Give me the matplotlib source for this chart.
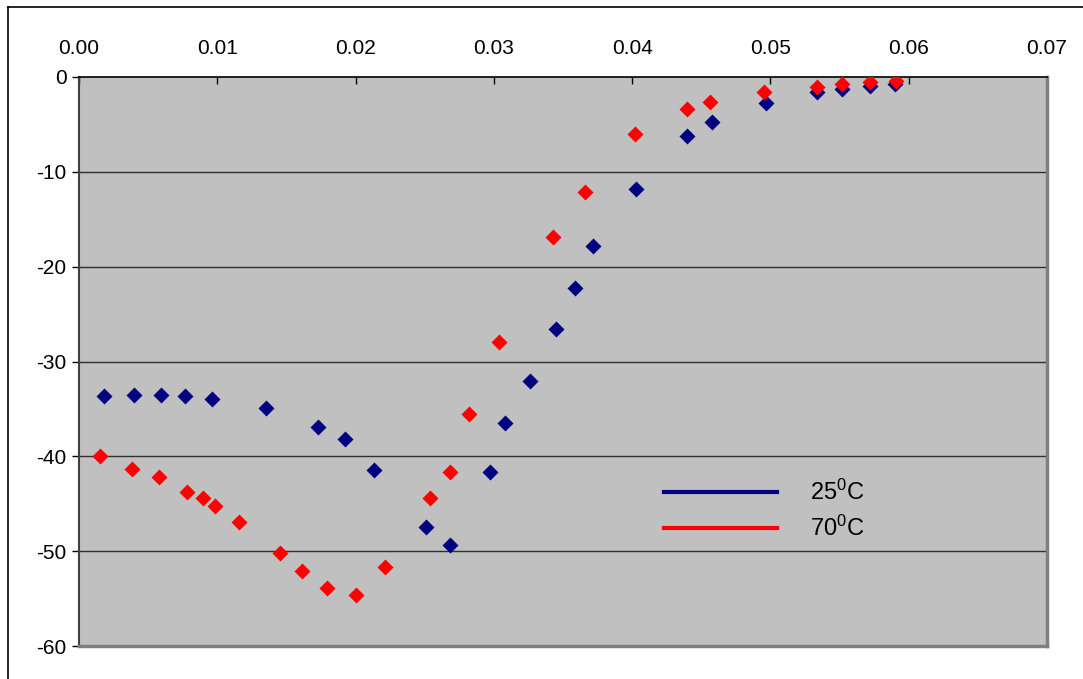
import matplotlib
matplotlib.use('Agg')
import matplotlib.pyplot as plt
from matplotlib.lines import Line2D

plt.rcParams['font.family'] = ['Liberation Sans', 'DejaVu Sans']
plt.rcParams['mathtext.fontset'] = 'custom'
plt.rcParams['mathtext.rm'] = 'Liberation Sans'
plt.rcParams['mathtext.default'] = 'regular'
plt.rcParams['axes.unicode_minus'] = False

# 25 C series
x25 = [0.0018, 0.0040, 0.0059, 0.0077, 0.0096, 0.0135, 0.0173, 0.0192,
       0.0213, 0.0251, 0.0268, 0.0297, 0.0308, 0.0326, 0.0345, 0.0359,
       0.0372, 0.0403, 0.0440, 0.0458, 0.0497, 0.0534, 0.0552, 0.0572,
       0.0590]
y25 = [-33.6, -33.5, -33.5, -33.6, -34.0, -34.9, -36.9, -38.2,
       -41.4, -47.5, -49.4, -41.7, -36.5, -32.1, -26.6, -22.3,
       -17.8, -11.8, -6.2, -4.7, -2.7, -1.6, -1.3, -0.9,
       -0.7]

# 70 C series
x70 = [0.0015, 0.0038, 0.0058, 0.0078, 0.0090, 0.0098, 0.0116, 0.0145,
       0.0161, 0.0179, 0.0200, 0.0221, 0.0254, 0.0268, 0.0282, 0.0304,
       0.0343, 0.0366, 0.0402, 0.0440, 0.0456, 0.0495, 0.0534, 0.0552,
       0.0572, 0.0591]
y70 = [-40.0, -41.3, -42.2, -43.8, -44.4, -45.2, -46.9, -50.2,
       -52.1, -53.9, -54.6, -51.7, -44.4, -41.7, -35.5, -27.9,
       -16.9, -12.1, -6.0, -3.4, -2.6, -1.6, -1.1, -0.7,
       -0.5, -0.4]

labels = ['25$^0$C', '70$^0$C']
colors = ['#000080', '#FF0000']

fig = plt.figure(figsize=(10.83, 6.79), dpi=100)
ax = fig.add_axes([79/1083, 1-646/679, (1047-79)/1083, (646-77)/679])
ax.set_facecolor('#C0C0C0')

# outer chart border (only top and left visible)
fig.add_artist(Line2D([8/1083, 1.0], [1-7/679, 1-7/679], color='black', lw=1.2))
fig.add_artist(Line2D([8/1083, 8/1083], [0, 1-7/679], color='black', lw=1.2))

for i in range(-50, 0, 10):
    ax.axhline(i, color='#303030', lw=1.0, zorder=1)

ax.plot(x25, y25, 'D', color=colors[0], ms=8.5, mec='none', zorder=3)
ax.plot(x70, y70, 'D', color=colors[1], ms=8.5, mec='none', zorder=4)

ax.set_xlim(0, 0.07)
ax.set_ylim(-60, 0)
ax.set_xticks([0.00, 0.01, 0.02, 0.03, 0.04, 0.05, 0.06, 0.07])
ax.set_xticklabels(['0.00', '0.01', '0.02', '0.03', '0.04', '0.05', '0.06', '0.07'])
ax.set_yticks(range(-60, 1, 10))
ax.xaxis.tick_top()
ax.tick_params(axis='x', direction='in', length=5, width=1, pad=14,
               labelsize=15, colors='black')
ax.tick_params(axis='y', direction='out', length=5, width=1, pad=4,
               labelsize=15)

ax.spines['top'].set_color('black')
ax.spines['top'].set_linewidth(1.2)
ax.spines['left'].set_color('#404040')
ax.spines['left'].set_linewidth(1.5)
ax.spines['right'].set_color('#808080')
ax.spines['right'].set_linewidth(2.5)
ax.spines['bottom'].set_color('#808080')
ax.spines['bottom'].set_linewidth(2.5)

handles = [Line2D([], [], color=c, lw=3) for c in colors]
ax.legend(handles, labels, loc='upper left', frameon=False, fontsize=17,
          bbox_to_anchor=(664/1083, 1-480/679), bbox_transform=fig.transFigure,
          borderpad=0, borderaxespad=0, handlelength=4.8, handletextpad=1.4,
          labelspacing=0.45)

fig.savefig('out.png', dpi=100)
